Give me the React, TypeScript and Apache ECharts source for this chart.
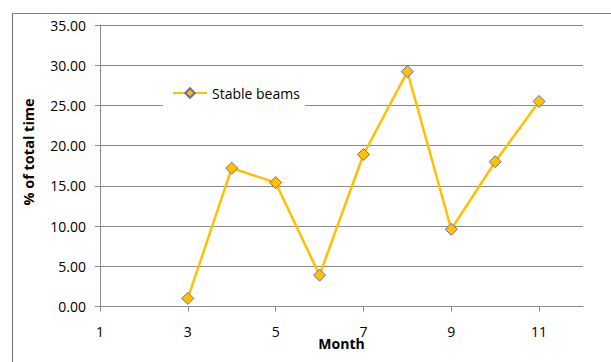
import React, { useEffect, useRef } from "react";
import * as echarts from "echarts";

// Month numbers along the category axis
const months: string[] = ["1", "2", "3", "4", "5", "6", "7", "8", "9", "10", "11", "12"];

// Share of total time with stable beams, per month (null = no data)
const stableBeams: (number | null)[] = [null, null, 1.0, 17.2, 15.4, 3.9, 18.9, 29.2, 9.6, 18.0, 25.5, null];

const seriesName = "Stable beams";
const yTitle = "% of total time";
const xTitle = "Month";

const FONT = "'Open Sans', Lato, sans-serif";
const AXIS_GRAY = "#8a8a8a";

export default function App() {
  const ref = useRef<HTMLDivElement | null>(null);

  useEffect(() => {
    if (!ref.current) return;
    const chart = echarts.init(ref.current, undefined, { renderer: "svg" });
    chart.setOption({
      animation: false,
      backgroundColor: "#ffffff",
      textStyle: { fontFamily: FONT },
      grid: { left: 100, right: 28, top: 25, bottom: 55.5, containLabel: false },
      legend: {
        left: 163,
        top: 80,
        padding: [6, 5, 7, 9],
        backgroundColor: "#ffffff",
        itemWidth: 34,
        itemHeight: 12,
        itemGap: 5,
        textStyle: { fontFamily: FONT, fontSize: 14, color: "#000" },
        data: [seriesName],
        z: 10,
      },
      xAxis: {
        type: "category",
        data: months,
        boundaryGap: false,
        axisLine: { lineStyle: { color: AXIS_GRAY, width: 1 } },
        axisTick: { show: true, interval: 1, length: 5, lineStyle: { color: AXIS_GRAY } },
        axisLabel: { interval: 1, margin: 18, fontSize: 14, color: "#000", fontFamily: FONT },
        splitLine: { show: false },
        name: xTitle,
        nameLocation: "middle",
        nameGap: 30,
        nameMoveOverlap: false,
        nameTextStyle: { fontFamily: FONT, fontSize: 14, fontWeight: "bold", color: "#000" },
      },
      yAxis: {
        type: "value",
        min: 0,
        max: 35,
        interval: 5,
        axisLine: { show: true, lineStyle: { color: AXIS_GRAY, width: 1 } },
        axisTick: { show: true, length: 5, lineStyle: { color: AXIS_GRAY } },
        axisLabel: {
          margin: 14,
          fontSize: 14,
          color: "#000",
          fontFamily: FONT,
          formatter: (v: number) => v.toFixed(2),
        },
        splitLine: { show: true, lineStyle: { color: AXIS_GRAY, width: 1 } },
      },
      graphic: [
        {
          type: "rect",
          silent: true,
          shape: { x: 12.5, y: 13.5, width: 700, height: 400 },
          style: { fill: "none", stroke: "#7f7f7f", lineWidth: 1.2 },
          z: -1,
        },
        {
          type: "text",
          x: 28,
          y: 152,
          rotation: Math.PI / 2,
          style: {
            text: yTitle,
            fontFamily: FONT,
            fontSize: 14.5,
            fontWeight: "bold",
            fill: "#000",
            align: "center",
            verticalAlign: "middle",
          },
        },
      ],
      series: [
        {
          name: seriesName,
          type: "line",
          data: stableBeams,
          connectNulls: false,
          symbol: "diamond",
          symbolSize: 12,
          showAllSymbol: true,
          lineStyle: { color: "#FFC000", width: 2.5 },
          itemStyle: { color: "#FFC000", borderColor: "#6e6ea6", borderWidth: 1 },
          z: 3,
        },
      ],
    });
    return () => chart.dispose();
  }, []);

  return (
    <div
      ref={ref}
      style={{ position: "fixed", left: 0, top: 0, width: 611, height: 362 }}
    />
  );
}
